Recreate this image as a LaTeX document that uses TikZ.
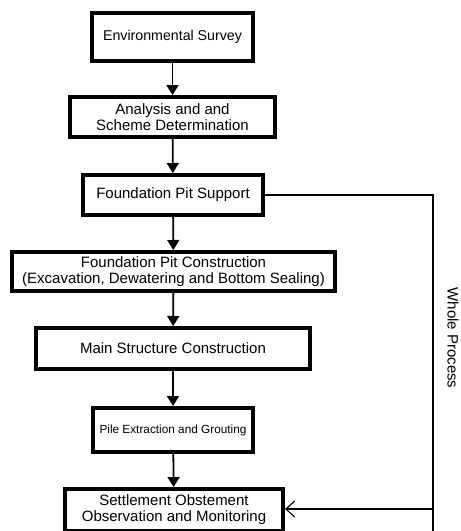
\documentclass[tikz,border=0pt]{standalone}
\usepackage{fontspec}
\setmainfont{Liberation Sans}
\usetikzlibrary{arrows.meta}
\begin{document}
\begin{tikzpicture}[x=1pt,y=-1pt,
  stepbox/.style={draw=black,line width=4pt,inner sep=0pt,align=center,
    font=\fontsize{15}{16}\selectfont},
  flow/.style={line width=1.8pt,-{Triangle[length=10pt,width=12pt]}},
  loopline/.style={line width=1.1pt}]
\useasboundingbox (0,0) rectangle (461,531);
\node[stepbox,minimum width=161pt,minimum height=48pt,font=\fontsize{14.2}{16}\selectfont] (n1) at (172.5,37) {Environmental Survey};
\node[stepbox,minimum width=205pt,minimum height=40pt] (n2) at (172.5,117) {Analysis and and\\Scheme Determination};
\node[stepbox,minimum width=180pt,minimum height=40pt] (n3) at (173,195) {Foundation Pit Support};
\node[stepbox,minimum width=323pt,minimum height=39pt] (n4) at (173.5,271.5) {Foundation Pit Construction\\(Excavation, Dewatering and Bottom Sealing)};
\node[stepbox,minimum width=274pt,minimum height=41pt] (n5) at (173,348.5) {Main Structure Construction};
\node[stepbox,minimum width=160pt,minimum height=44pt,font=\fontsize{11.8}{14}\selectfont] (n6) at (173,430) {Pile Extraction and Grouting};
\node[stepbox,minimum width=218pt,minimum height=42pt] (n7) at (174,510) {Settlement Obstement\\Observation and Monitoring};
\draw[flow] (n1) -- (n2);
\draw[flow] (n2) -- (n3);
\draw[flow] (n3) -- (n4);
\draw[flow] (n4) -- (n5);
\draw[flow] (n5) -- (n6);
\draw[flow] (n6) -- (n7);
\coordinate (c1) at (433,195);
\coordinate (c2) at (433,509);
\coordinate (c3) at (433,531);
\draw[loopline] (n3.east) -- (c1) -- (c3);
\draw[loopline,-{Straight Barb[length=9pt,width=16pt,line width=1.1pt]}] (c2) -- (n7.east |- c2);
\node[rotate=-90,inner sep=0pt,font=\fontsize{15}{16}\selectfont] (wp) at (453,338) {Whole Process};
\end{tikzpicture}
\end{document}
